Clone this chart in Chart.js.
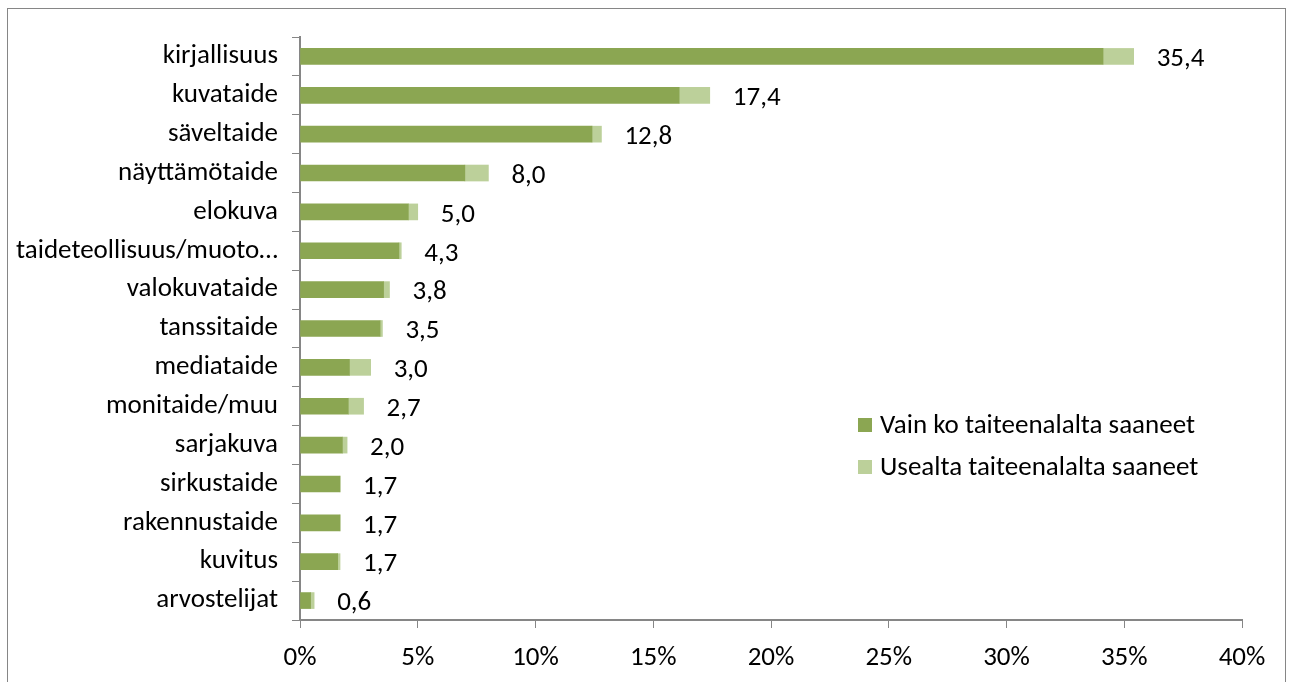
<!doctype html>
<html lang="fi">
<head>
<meta charset="utf-8">
<title>Taiteenalat</title>
<script src="https://cdn.jsdelivr.net/npm/chart.js"></script>
<style>
  body { margin: 0; background: #fff; }
</style>
</head>
<body>
<canvas id="chart" width="1293" height="682"></canvas>
<script>
    // categories, top to bottom
    const categories = ['kirjallisuus', 'kuvataide', 'säveltaide', 'näyttämötaide', 'elokuva',
        'taideteollisuus/muoto…', 'valokuvataide', 'tanssitaide', 'mediataide', 'monitaide/muu',
        'sarjakuva', 'sirkustaide', 'rakennustaide', 'kuvitus', 'arvostelijat'];
    // only from this field
    const onlyField = [34.1, 16.1, 12.4, 7.0, 4.6, 4.2, 3.55, 3.4, 2.1, 2.05, 1.8, 1.7, 1.7, 1.6, 0.45];
    // from several fields
    const severalFields = [1.3, 1.3, 0.4, 1.0, 0.4, 0.1, 0.25, 0.1, 0.9, 0.65, 0.2, 0.0, 0.0, 0.1, 0.15];
    // printed totals
    const totals = [35.4, 17.4, 12.8, 8.0, 5.0, 4.3, 3.8, 3.5, 3.0, 2.7, 2.0, 1.7, 1.7, 1.7, 0.6];
    const xTicks = [0, 5, 10, 15, 20, 25, 30, 35, 40];

    const FONT = '"Carlito", "Open Sans", sans-serif';
    const FSIZE = 27;
    const DARK = '#8ba652';
    const LIGHT = '#bcd09a';
    const AXIS = '#868686';

    // frame around the whole chart
    const framePlugin = {
        id: 'frame',
        beforeDraw(chart) {
            const ctx = chart.ctx;
            ctx.save();
            ctx.strokeStyle = AXIS;
            ctx.lineWidth = 1;
            ctx.strokeRect(7.5, 8.5, 1278, 700);
            ctx.restore();
        }
    };

    // total value at end of each bar
    const totalsPlugin = {
        id: 'totals',
        afterDatasetsDraw(chart) {
            const ctx = chart.ctx;
            const x = chart.scales.x, y = chart.scales.y;
            ctx.save();
            ctx.font = FSIZE + 'px ' + FONT;
            ctx.fillStyle = '#000';
            ctx.textBaseline = 'middle';
            ctx.textAlign = 'left';
            totals.forEach((t, i) => {
                const end = x.getPixelForValue(onlyField[i] + severalFields[i]);
                ctx.fillText(t.toFixed(1).replace('.', ','), end + 23, y.getPixelForValue(i) + 3);
            });
            ctx.restore();
        }
    };

    // legend inside plot area
    const legendPlugin = {
        id: 'innerLegend',
        afterDraw(chart) {
            const ctx = chart.ctx;
            ctx.save();
            ctx.font = FSIZE + 'px ' + FONT;
            ctx.textBaseline = 'middle';
            chart.data.datasets.forEach((ds, i) => {
                const top = 425 + i * 42;
                ctx.fillStyle = ds.backgroundColor;
                ctx.fillRect(858, top - 7, 14, 14);
                ctx.fillStyle = '#000';
                ctx.fillText(ds.label, 880, top + 1);
            });
            ctx.restore();
        }
    };

    new Chart(document.getElementById('chart'), {
        type: 'bar',
        plugins: [framePlugin, totalsPlugin, legendPlugin],
        data: {
            labels: categories,
            datasets: [{
                label: 'Vain ko taiteenalalta saaneet',
                data: onlyField,
                backgroundColor: DARK,
                barThickness: 16
            }, {
                label: 'Usealta taiteenalalta saaneet',
                data: severalFields,
                backgroundColor: LIGHT,
                barThickness: 16
            }]
        },
        options: {
            indexAxis: 'y',
            responsive: false,
            animation: false,
            layout: { padding: { top: 37, right: 51, left: 0, bottom: 0 } },
            plugins: {
                legend: { display: false },
                tooltip: { enabled: false }
            },
            scales: {
                x: {
                    stacked: true,
                    min: 0,
                    max: 40,
                    afterBuildTicks(scale) {
                        scale.ticks = xTicks.map(v => ({ value: v }));
                    },
                    afterFit(scale) { scale.height = 62; },
                    grid: { drawOnChartArea: false, tickLength: 8, color: AXIS },
                    border: { color: AXIS, width: 2 },
                    ticks: {
                        color: '#000',
                        padding: 14,
                        font: { family: FONT, size: FSIZE },
                        callback: v => v + '%'
                    }
                },
                y: {
                    stacked: true,
                    afterFit(scale) { scale.width = 300; },
                    grid: { drawOnChartArea: false, tickLength: 8, color: AXIS, offset: true },
                    border: { color: AXIS, width: 2 },
                    ticks: {
                        color: '#000',
                        padding: 14,
                        font: { family: FONT, size: FSIZE }
                    }
                }
            }
        }
    });
</script>
</body>
</html>
